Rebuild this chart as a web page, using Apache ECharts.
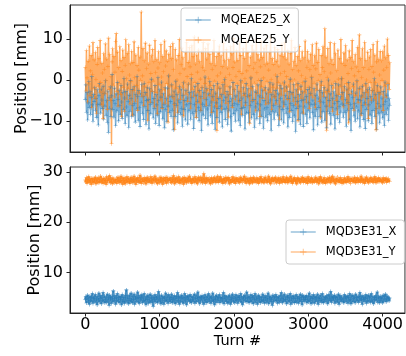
<!DOCTYPE html>
<html>
<head>
<meta charset="utf-8">
<script src="https://cdn.jsdelivr.net/npm/echarts@6/dist/echarts.min.js"></script>
<style>html,body{margin:0;padding:0;background:#fff}#c{width:406px;height:356px}</style>
</head>
<body>
<div id="c"></div>
<script>
// ---- data (downsampled turn-by-turn readings) ----
const lastTurn = 4095;
const xTicks = [0, 1000, 2000, 3000, 4000];
const yTicksTop = [-10, 0, 10];
const yTicksBottom = [10, 20, 30];
const namesTop = ['MQEAE25_X', 'MQEAE25_Y'];
const namesBottom = ['MQD3E31_X', 'MQD3E31_Y'];

const mqeae25X = [
-4.8,-1.2,-7.9,-3.1,-9.8,-5.6,-0.4,-6.7,-2.9,-8.4,-4.2,0.8,-6.1,-10.1,-3.6,-5.3,
-1.9,-7.4,-4.5,-9.2,-2.4,-6.0,-11.0,-3.8,-0.9,-5.9,-8.1,-2.2,-4.9,-7.0,-1.5,-9.6,
-3.3,-6.4,-0.2,-8.7,-5.1,-10.4,-2.7,-12.8,-4.3,-6.9,-1.7,-8.9,-3.9,1.3,-7.2,-5.0,
-9.1,-2.0,-5.8,-11.2,-3.4,-7.6,-0.6,-4.7,-10.0,-2.5,-6.3,-8.5,-1.3,-5.4,-9.4,-3.0,
-7.3,0.4,-4.4,-10.7,-2.8,-6.6,-8.8,-1.0,-5.2,-11.6,-3.7,-7.7,-0.1,-4.6,-9.0,-2.3,
-6.2,-8.6,-1.6,-5.7,-10.3,-3.5,-7.1,0.9,-4.1,-9.9,-2.6,-6.8,-11.4,-3.2,-5.5,-1.1,
-8.2,-4.0,-9.7,-0.8,-6.5,-3.1,-10.9,-5.0,-1.8,-7.5,-4.8,-12.0,-2.1,-6.0,-8.3,0.2,
-5.6,-2.9,-9.3,-4.5,-7.0,-1.4,-10.6,-3.6,-6.1,-8.7,0.6,-5.1,-11.1,-2.4,-7.8,-4.2,
-0.5,-6.7,-9.5,-3.3,-5.9,-11.7,-1.9,-7.3,-4.6,-10.2,-2.0,-6.4,1.0,-8.0,-3.9,-5.3,
-9.0,-1.2,-7.4,-4.0,-12.2,-2.7,-5.8,-8.9,-0.3,-6.3,-3.5,-10.5,-4.9,-7.9,-1.6,-5.5,
-8.4,-2.2,-6.9,-11.3,-3.8,-0.7,-7.2,-5.0,-9.8,-2.5,-6.1,-4.4,-10.8,-1.0,-7.6,-3.1,
-5.7,-9.6,0.3,-4.3,-8.2,-2.9,-11.9,-6.0,-1.5,-7.7,-3.7,-9.1,-5.2,-0.9,-6.8,-10.0,
-2.6,-7.5,-4.1,-12.4,-1.8,-5.9,-8.6,-3.0,-6.5,0.7,-9.4,-4.7,-2.1,-7.1,-11.0,-3.4,
-6.2,-0.4,-8.8,-5.4,-2.3,-10.6,-4.0,-7.8,-1.3,-6.6,-12.1,-3.2,-5.6,-9.2,-0.8,-7.0,
-4.5,-10.3,-2.0,-6.4,-8.0,-3.6,-11.5,-1.1,-5.1,-7.3,0.1,-9.7,-4.2,-6.9,-2.8,-10.9,
-3.5,-7.6,-5.3,-1.7,-9.0,-12.5,-4.6,-6.2,-0.6,-8.3,-2.4,-5.8,-10.1,-3.9,-7.4,-1.4,
-6.0,-9.9,-2.9,-5.0,-11.2,-0.2,-7.0,-4.4,-8.7,-1.9,-6.7,-3.3,-12.0,-5.5,-0.9,-8.1,
-4.0,-2.1,-7.9,-10.4,-3.7,-6.3,0.5,-9.3,-5.2,-1.6,-8.5,-4.8,-11.6,-2.7,-6.6,-3.0,
-9.5,-5.7,-1.2,-7.4,-3.9,-10.7,-6.1,-0.1,-8.9,-4.3,-2.5,-11.8,-5.0,-7.1,-1.8,-9.1,
-3.2,-6.8,-10.0,-2.2,-5.6,-8.4,-0.7,-4.9,-12.3,-3.5,-7.7,-1.0,-6.2,-9.6,-4.1,-2.6,
-7.9,-5.1,0.9,-8.6,-3.4,-11.1,-6.5,-1.3,-4.6,-9.8,-2.0,-7.2,-5.4,-10.5,-0.5,-6.0,
-3.8,-8.2,-1.7,-6.9,-11.5,-4.5,-2.8,-9.2,0.2,-5.8,-7.5,-3.1,-10.2,-6.3,-1.1,-8.8,
-4.3,-12.6,-2.4,-7.0,-5.3,-0.8,-9.7,-3.6,-6.4,-10.9,-1.5,-5.0,-8.1,-2.9,-11.4,-4.7,
-6.6,-0.3,-8.5,-4.0,-10.6,-2.3,-7.6,-5.6,-1.9,-9.3,-3.3,-6.1,0.6,-8.0,-4.9,-12.2,
-2.1,-5.9,-9.0,-3.7,-7.3,-1.0,-11.0,-4.4,-6.7,-2.6,-8.9,-5.2,-0.4,-10.3,-3.0,-7.8,
-5.5,-1.8,-9.9,-4.2,-6.4,-11.7,-2.5,-7.7,0.0,-5.0,-8.3,-3.4,-10.8,-1.4,-6.8,-4.6,
-8.7,-2.9,-5.7,-12.0,-0.9,-7.1,-3.8,-9.4,-5.3,-1.2,-6.5,-10.4,-4.1,-7.9,0.4,-5.9,
-3.1,-9.1,-6.2,-1.6,-8.0,-4.7,-11.3,-2.2,-7.4,-5.5,-0.6,-9.8,-3.6,-6.0,-12.4,-2.7,
-7.0,-4.3,-1.0,-8.8,-5.8,-10.1,-3.2,-6.6,-0.2,-9.5,-4.8,-7.6,-2.0,-11.5,-5.1,-3.9,
-8.3,-1.5,-6.3,-9.7,-3.0,-5.6,-11.9,-0.8,-7.2,-4.5,-2.4,-10.0,-6.1,-1.9,-8.6,-4.0,
-5.4,-10.6,-2.6,-7.5,-4.9,0.3,-9.0,-3.5,-6.9,-12.1,-1.3,-5.7,-8.2,-3.1,-10.5,-6.4,
-1.7,-7.9,-4.4,-9.3,-2.8,-6.0,-11.2,-0.5,-5.2,-8.4,-3.7,-7.1,-1.1,-9.9,-4.6,-6.2
];
const mqeae25Y = [
3.1,-2.7,7.2,0.5,-5.4,4.6,-1.0,8.3,-3.9,2.2,6.0,-6.8,1.4,9.1,-2.1,4.9,
-4.5,6.7,0.1,-8.2,3.8,7.9,-1.6,5.3,-3.0,9.6,-0.6,-6.1,4.1,1.7,-9.4,6.4,
2.6,-3.4,8.8,-0.2,5.1,-7.2,3.3,10.2,-2.4,6.2,-5.0,0.9,-15.6,4.4,7.6,-1.3,
5.7,-4.2,1.9,9.4,11.3,-2.9,6.8,-6.4,3.0,-0.8,8.1,-3.6,4.8,-9.0,2.1,7.3,
-1.9,5.5,-7.7,3.6,9.8,0.3,-4.7,6.5,-2.2,8.6,1.2,-5.9,4.0,-0.4,7.0,-8.6,
4.3,-2.6,9.3,0.6,-5.2,6.1,-1.4,3.5,-7.5,8.0,2.4,-3.3,5.6,-0.1,16.6,-4.0,
1.0,7.7,-6.3,4.7,-1.7,9.0,-3.8,2.8,6.6,-9.9,3.9,-0.7,8.5,-5.5,1.6,5.9,
-2.8,7.4,-0.3,4.5,-6.6,9.7,1.8,-3.1,5.0,-8.3,2.9,6.9,-1.2,4.2,-4.9,8.7,
0.7,-7.0,5.8,2.0,-2.5,9.5,-5.7,3.4,7.1,-0.9,4.6,-10.3,6.3,1.1,-3.7,8.2,
-1.5,5.2,-4.4,8.9,2.5,-6.0,-12.1,7.5,-2.0,4.9,0.0,-7.9,6.0,-3.2,9.9,1.5,
-4.8,3.7,7.8,-1.8,5.4,-8.8,2.7,-0.5,6.7,-3.5,9.2,0.8,-5.3,4.3,-1.1,7.9,
3.2,-6.9,1.3,8.4,-2.3,5.8,-4.1,10.5,-0.6,3.9,-9.2,6.1,1.9,-3.0,7.3,-5.6,
4.5,0.2,-7.4,6.9,-1.9,3.1,9.1,-4.6,2.3,-0.9,7.7,-6.2,5.1,-2.7,8.8,0.4,
-3.9,6.3,-1.4,4.0,-8.0,2.6,7.0,-5.1,9.6,-0.3,3.6,-6.5,5.7,-12.4,1.0,6.6,
-2.1,8.3,-4.3,1.7,5.9,-7.1,3.3,-0.7,9.0,-3.4,4.7,0.6,-5.8,7.5,-1.6,2.9,
-9.1,5.0,1.4,-3.6,8.1,-0.2,6.4,-6.7,3.0,10.1,-2.4,4.4,-4.9,0.9,7.2,-1.0,
4.8,-5.4,2.1,8.9,-2.9,6.0,-8.5,1.6,-0.5,7.6,-3.9,5.3,0.3,-6.3,9.3,2.2,
-1.3,6.8,-4.0,3.5,-10.7,5.6,0.7,-2.2,8.4,-5.0,2.8,7.1,-0.8,4.2,-7.6,9.8,
1.8,-3.3,6.2,-0.1,4.9,-8.9,3.2,9.4,-1.7,5.5,-4.5,0.5,7.8,-2.6,3.7,-6.0,
8.5,-0.4,4.1,-5.7,2.4,6.7,-3.1,10.3,0.1,-7.3,5.2,-1.9,3.8,-4.2,8.0,1.2,
-5.9,4.6,-2.0,7.4,-0.6,3.4,-9.6,6.1,1.5,-3.7,8.7,-1.0,5.8,-6.6,2.0,9.2,
-2.9,5.1,0.8,-4.8,7.2,-1.5,3.9,-7.8,6.5,-0.3,9.7,-3.5,2.6,-5.2,4.5,0.0,
7.9,-6.1,3.6,-1.2,5.7,-10.0,2.2,8.2,-2.3,4.8,-4.6,1.1,6.9,-0.7,-8.1,5.4,
-3.0,9.5,0.4,-5.5,3.1,7.0,-1.8,4.7,-7.0,2.5,6.3,-3.8,0.9,8.6,-4.4,3.5,
-0.8,5.9,-6.8,2.7,9.0,-2.5,4.3,-0.2,7.5,-5.3,1.3,-9.3,6.0,-1.4,3.0,8.1,
-4.1,2.0,12.5,-3.2,5.6,-12.3,0.6,7.7,-2.8,4.0,-6.4,9.1,1.7,-1.1,5.0,-7.7,
3.8,-2.0,8.9,-0.5,6.4,-5.0,2.3,-8.4,7.3,0.2,-3.6,5.3,-1.6,9.9,-4.7,4.1,
0.3,-6.6,6.6,-2.7,3.5,8.4,-0.9,-5.8,4.9,1.6,-10.5,7.1,-2.2,5.5,-3.4,2.8,
9.6,-1.7,4.5,-7.4,1.0,6.2,-3.9,3.2,-0.4,8.0,-5.6,2.1,11.0,-2.4,5.2,-8.7,
0.6,7.6,-4.3,3.0,-1.3,9.2,-6.1,4.8,0.0,-3.1,6.8,-9.4,2.6,5.6,-0.6,7.4,
-5.1,3.3,-2.6,8.7,1.9,-4.6,6.1,-0.7,-12.2,4.4,9.4,-2.9,5.0,-6.9,1.2,7.0,
-3.5,4.7,-0.1,6.9,-7.5,2.4,8.3,-1.5,5.4,-4.2,3.1,10.0,-0.9,6.0,-2.3,4.2
];
const mqd3e31X = [
4.6,5.2,3.9,4.9,5.5,4.1,4.7,3.6,5.3,4.4,5.0,4.2,5.8,3.8,4.8,5.1,
4.3,5.6,4.0,4.7,3.5,5.2,4.5,5.9,4.1,4.8,5.4,3.7,5.0,4.4,6.0,4.2,
5.3,3.9,4.6,5.1,4.0,5.7,4.3,4.9,3.4,5.5,4.7,5.0,3.8,5.2,4.5,6.3,
4.1,4.8,5.4,3.6,5.0,4.4,5.8,4.2,4.9,3.9,5.3,4.6,5.1,3.5,5.6,4.3,
5.0,4.2,3.8,5.4,4.7,6.5,4.0,5.1,4.4,3.7,5.5,4.8,4.1,5.9,4.5,3.9,
5.2,4.6,5.7,3.6,4.9,5.3,4.2,4.8,6.1,4.0,5.0,3.8,5.4,4.5,4.9,5.6,
3.9,5.1,4.4,5.8,4.1,4.7,3.5,5.2,4.6,5.5,3.8,5.0,4.3,5.7,4.0,4.8,
5.4,4.3,3.2,5.0,4.6,5.6,4.1,4.9,5.3,3.9,4.7,6.2,4.2,5.1,4.5,3.7,
5.5,4.0,4.8,5.2,3.6,5.0,4.4,5.9,4.2,4.7,5.3,3.8,5.6,4.5,5.0,4.1,
4.9,5.7,3.9,4.6,5.1,4.3,5.4,3.7,4.8,5.2,4.0,6.0,4.4,5.0,3.6,5.3,
4.2,4.8,5.5,4.0,5.0,3.8,4.7,5.8,4.3,5.1,3.5,4.9,5.4,4.6,5.2,4.1,
5.6,4.4,3.9,5.3,4.6,5.0,4.2,5.7,3.8,4.8,5.5,4.1,4.9,6.1,4.3,5.0,
3.7,5.2,4.5,4.9,5.4,4.0,5.1,3.6,4.7,5.6,4.3,5.0,3.9,5.3,4.6,5.8,
4.1,4.8,5.3,3.8,5.0,4.4,5.9,4.2,4.7,3.5,5.2,4.6,5.5,4.0,4.9,5.1,
4.4,5.6,3.9,5.0,4.7,5.3,4.1,4.8,6.0,3.7,5.1,4.5,5.4,4.2,4.9,3.8,
5.2,4.0,5.5,4.6,3.6,5.0,4.3,5.7,4.8,4.1,5.3,3.9,4.7,5.6,4.4,5.0,
3.8,5.4,4.6,5.1,4.2,5.8,4.0,4.9,3.5,5.2,4.7,5.5,4.3,5.0,4.1,6.1,
4.8,4.2,5.3,3.9,5.0,4.5,5.6,4.1,4.9,5.4,3.7,5.1,4.6,5.8,4.0,4.7,
5.3,3.6,4.8,5.5,4.3,5.0,3.9,5.2,4.6,4.1,5.7,4.4,5.0,3.8,5.4,4.7,
4.0,5.1,4.5,5.9,3.7,4.8,5.3,4.2,5.0,4.6,3.4,5.5,4.1,4.9,5.2,4.3,
5.6,4.4,5.0,3.8,5.2,4.7,4.0,5.4,4.3,6.0,4.8,3.9,5.1,4.5,5.7,4.2,
4.6,5.3,3.7,4.9,5.5,4.1,5.0,4.4,5.8,3.6,4.7,5.2,4.0,5.4,4.8,3.9,
5.1,4.3,5.6,4.0,4.8,5.3,3.8,4.9,4.5,5.7,4.2,5.0,3.5,5.5,4.6,5.2,
4.2,5.0,4.7,5.4,3.9,4.6,5.2,4.1,5.9,4.4,4.9,3.7,5.3,4.8,4.0,5.6,
4.9,3.8,5.3,4.5,5.0,4.2,5.7,3.6,4.8,5.1,4.4,5.5,4.0,4.7,5.8,4.3,
3.9,5.2,4.6,5.0,4.1,5.4,4.8,3.7,5.6,4.3,5.1,4.5,6.2,4.0,4.9,5.3,
4.4,4.9,5.5,3.8,5.0,4.2,5.3,4.7,4.0,5.7,3.6,5.1,4.6,5.4,4.2,4.8,
5.0,4.3,3.9,5.6,4.7,5.2,4.1,4.9,5.4,3.8,5.0,4.4,5.8,4.6,3.7,5.3,
4.1,5.5,4.8,4.2,5.1,3.9,5.7,4.5,5.0,4.3,5.3,4.0,4.9,6.0,4.4,5.2,
4.7,3.6,5.4,4.6,5.0,4.2,4.8,5.6,3.8,5.1,4.4,5.5,4.1,4.9,5.3,4.0,
5.8,4.5,4.1,5.2,3.7,5.0,4.6,5.4,4.3,4.9,6.1,4.0,5.1,4.7,3.9,5.3,
4.4,5.0,4.8,3.9,5.5,4.2,5.2,4.6,5.7,4.1,4.8,5.3,4.5,5.0,4.3,4.9
];
const mqd3e31Y = [
28.4,28.0,28.9,27.7,28.5,28.2,29.1,27.9,28.6,28.3,27.5,28.8,28.1,28.7,27.8,28.5,
28.2,29.0,27.6,28.4,28.7,28.0,28.9,27.8,28.5,28.1,29.2,27.9,28.6,28.3,27.7,28.8,
28.0,28.6,28.3,27.5,29.1,28.2,27.9,28.7,28.4,29.3,27.8,28.5,28.1,28.9,27.6,28.4,
28.7,27.9,28.5,28.2,28.8,27.7,28.4,29.0,28.1,28.6,27.8,28.3,29.2,28.0,28.7,27.5,
28.3,28.9,28.0,27.6,28.6,28.2,29.1,27.9,28.4,28.8,28.1,27.7,28.5,29.0,28.2,28.6,
27.8,28.4,29.2,28.1,28.7,27.5,28.5,28.3,28.9,27.9,28.6,28.0,29.4,28.2,27.7,28.8,
28.5,28.1,27.8,28.9,28.3,28.6,27.6,28.4,29.0,28.2,28.7,27.9,28.5,28.0,29.1,28.3,
27.7,28.8,28.2,28.5,27.9,29.2,28.4,28.0,28.7,27.6,28.6,28.3,28.9,27.8,28.4,29.0,
28.1,28.6,27.5,28.8,28.3,28.0,28.9,28.4,27.7,29.0,28.2,28.5,27.9,28.7,28.3,28.0,
28.9,27.8,28.5,28.1,29.3,28.4,27.6,28.7,28.2,28.9,27.9,28.5,28.0,29.1,28.3,27.7,
28.6,28.2,27.9,28.8,28.4,27.5,29.0,28.1,28.6,28.3,27.8,28.9,28.4,28.0,28.7,29.2,
28.0,28.5,28.3,27.7,28.8,28.2,28.6,27.9,29.1,28.4,28.0,28.7,27.6,28.5,29.0,28.2,
28.4,27.9,29.0,28.3,28.6,27.8,28.5,29.7,28.1,28.7,27.7,28.4,28.9,28.2,27.9,28.6,
28.8,28.1,27.6,28.5,28.9,28.3,27.8,28.7,28.2,29.0,28.4,27.9,28.6,28.0,29.2,28.3,
27.9,28.6,28.4,29.1,28.0,28.5,28.2,27.7,28.8,28.3,28.6,27.8,29.0,28.4,28.1,28.7,
28.3,28.9,27.6,28.5,28.2,28.8,27.9,28.4,29.1,28.0,28.6,28.3,27.7,28.9,28.5,28.1,
28.6,28.0,28.8,27.8,28.4,29.0,28.2,28.5,27.9,28.7,28.3,29.2,28.0,28.5,27.7,28.8,
28.2,28.7,28.0,28.4,27.6,28.9,28.3,28.6,28.1,27.8,29.0,28.4,28.7,28.0,28.5,27.9,
28.9,28.3,28.5,27.7,28.8,28.1,28.6,29.1,27.9,28.4,28.2,28.7,27.8,28.5,29.0,28.2,
28.0,28.6,27.9,28.4,29.2,28.0,28.5,27.6,28.7,28.3,28.9,28.1,28.4,27.8,28.6,29.0,
28.4,27.8,28.7,28.2,28.5,28.9,27.7,28.3,28.8,28.0,28.5,27.9,29.1,28.4,28.1,28.6,
27.9,28.5,29.0,28.3,27.8,28.6,28.2,28.8,28.0,29.2,28.4,28.1,27.7,28.7,28.3,28.9,
28.5,28.1,28.4,27.6,28.9,28.3,28.7,28.0,28.5,27.8,28.8,28.4,28.2,29.0,27.9,28.6,
28.2,28.8,27.9,28.6,28.3,27.7,29.1,28.4,28.1,28.7,28.0,28.5,28.9,27.8,28.4,28.2,
28.7,28.0,28.5,29.0,27.9,28.4,28.2,28.8,27.6,28.5,28.3,29.1,28.0,28.6,28.2,27.8,
28.3,28.9,28.1,27.7,28.6,28.4,27.9,28.8,28.5,28.0,29.0,28.3,27.8,28.7,28.4,29.2,
28.0,28.5,28.8,28.2,27.6,28.7,28.4,29.0,28.1,28.6,27.9,28.3,28.9,28.0,28.5,27.7,
28.6,28.2,27.8,28.9,28.4,28.1,28.7,27.9,28.5,29.1,28.2,28.6,28.0,27.7,28.8,28.4,
28.1,28.7,28.4,28.0,29.0,28.3,27.8,28.6,28.2,28.9,27.9,28.5,28.3,28.7,28.0,29.2,
28.5,27.9,28.6,28.3,28.8,27.7,28.4,28.1,29.0,28.5,28.2,27.8,28.7,28.4,28.0,28.9,
28.2,28.8,28.0,28.5,27.9,28.6,29.1,28.3,27.8,28.7,28.4,28.1,28.9,28.0,28.6,28.3,
28.7,28.1,28.5,27.8,28.9,28.3,28.0,28.6,28.4,28.8,27.9,28.5,28.2,28.7,28.4,28.1
];

// ---- build chart ----
function withTurns(vals) {
  const n = vals.length;
  return vals.map((v, i) => [Math.round(i * lastTurn / (n - 1)), v]);
}
const BLUE = '#1f77b4', ORANGE = '#ff7f0e';
const FONT = 'DejaVu Sans';
const PLUS = 'path://M-0.3,-2H0.3V-0.3H2V0.3H0.3V2H-0.3V0.3H-2V-0.3H-0.3Z';
const minus = v => String(v).replace('-', '\u2212');

function xAxis(grid, labels) {
  return {
    type: 'value', gridIndex: grid, min: -205, max: 4300,
    splitLine: { show: false },
    axisLine: { show: true, onZero: false, lineStyle: { color: '#222', width: 1 } },
    axisTick: { show: true, inside: false, length: 3.5, customValues: xTicks, lineStyle: { color: '#222' } },
    axisLabel: { show: labels, customValues: xTicks, margin: 4, fontFamily: FONT, fontSize: 16, color: '#000', formatter: v => String(v) },
    name: labels ? 'Turn #' : '', nameLocation: 'middle', nameGap: 21, nameMoveOverlap: false,
    nameTextStyle: { fontFamily: FONT, fontSize: 14.5, color: '#000' }
  };
}
function yAxis(grid, min, max, ticks, gap) {
  return {
    type: 'value', gridIndex: grid, min: min, max: max,
    splitLine: { show: false },
    axisLine: { show: true, onZero: false, lineStyle: { color: '#222', width: 1 } },
    axisTick: { show: true, inside: false, length: 3.5, customValues: ticks, lineStyle: { color: '#222' } },
    axisLabel: { customValues: ticks, margin: 7, fontFamily: FONT, fontSize: 16, color: '#000', formatter: minus },
    name: 'Position [mm]', nameLocation: 'middle', nameGap: gap, nameMoveOverlap: false,
    nameTextStyle: { fontFamily: FONT, fontSize: 16, color: '#000' }
  };
}
function lineSeries(name, vals, color, xi, yi, width, alpha) {
  return {
    name: name, type: 'line', xAxisIndex: xi, yAxisIndex: yi,
    data: withTurns(vals), showSymbol: true, symbol: PLUS, symbolSize: 4,
    lineStyle: { color: color, width: width, opacity: alpha },
    itemStyle: { color: color, opacity: alpha },
    emphasis: { disabled: true }, silent: true
  };
}
function legend(names, left, top) {
  return {
    data: names, orient: 'vertical', left: left, top: top,
    itemWidth: 25, itemHeight: 8, itemGap: 8,
    padding: [6, 8, 6, 4],
    backgroundColor: 'rgba(255,255,255,0.8)', borderColor: '#ccc', borderWidth: 1, borderRadius: 3,
    textStyle: { fontFamily: FONT, fontSize: 11.5, color: '#000', padding: [0, 0, 0, 5] },
    itemStyle: { opacity: 0.45 }, lineStyle: { opacity: 0.45, width: 1.5 },
    selectedMode: false
  };
}

const chart = echarts.init(document.getElementById('c'), null, { renderer: 'canvas' });
chart.setOption({
  animation: false,
  backgroundColor: '#fff',
  grid: [
    { left: 70, right: 1, top: 5, height: 147, show: true, borderColor: '#333', borderWidth: 1, backgroundColor: 'transparent' },
    { left: 70, right: 1, top: 167, height: 146, show: true, borderColor: '#333', borderWidth: 1, backgroundColor: 'transparent' }
  ],
  xAxis: [xAxis(0, false), xAxis(1, true)],
  yAxis: [yAxis(0, -17.6, 18.3, yTicksTop, 40), yAxis(1, 1.9, 31.0, yTicksBottom, 27)],
  legend: [legend(namesTop, 181, 8), legend(namesBottom, 286, 220)],
  series: [
    lineSeries(namesTop[0], mqeae25X, BLUE, 0, 0, 1.5, 0.6),
    lineSeries(namesTop[1], mqeae25Y, ORANGE, 0, 0, 1.5, 0.65),
    lineSeries(namesBottom[0], mqd3e31X, BLUE, 1, 1, 2.5, 0.8),
    lineSeries(namesBottom[1], mqd3e31Y, ORANGE, 1, 1, 2.5, 0.8)
  ]
});
</script>
</body>
</html>
